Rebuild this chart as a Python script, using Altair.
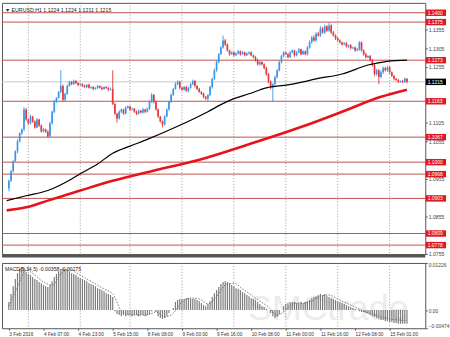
import altair as alt
import pandas as pd

FONT = "Liberation Sans"

header_text = "▼ EURUSD,H1  1.1224 1.1224 1.1211 1.1215"
macd_text = "MACD(5,34,5) -0.00358 -0.00275"
watermark_text = "SMCtrade"

first_open = 1.0930
closes = [
    1.0950, 1.0976, 1.1003, 1.1029, 1.1056, 1.1077, 1.1088, 1.1141, 1.1114, 1.1104,
    1.1122, 1.1109, 1.1093, 1.1114, 1.1098, 1.1082, 1.1088, 1.1082, 1.1069, 1.1104,
    1.1135, 1.1162, 1.1172, 1.1188, 1.1204, 1.1167, 1.1183, 1.1204, 1.1215, 1.1209,
    1.1217, 1.1212, 1.1207, 1.1209, 1.1204, 1.1201, 1.1207, 1.1199, 1.1201, 1.1196,
    1.1199, 1.1204, 1.1199, 1.1196, 1.1201, 1.1199, 1.1194, 1.1196, 1.1156, 1.1130,
    1.1117, 1.1135, 1.1141, 1.1130, 1.1146, 1.1149, 1.1141, 1.1143, 1.1135, 1.1130,
    1.1138, 1.1133, 1.1141, 1.1135, 1.1143, 1.1162, 1.1180, 1.1162, 1.1141, 1.1122,
    1.1109, 1.1101, 1.1122, 1.1141, 1.1162, 1.1180, 1.1196, 1.1209, 1.1215, 1.1199,
    1.1194, 1.1201, 1.1191, 1.1199, 1.1209, 1.1217, 1.1204, 1.1196, 1.1188, 1.1183,
    1.1175, 1.1170, 1.1180, 1.1201, 1.1223, 1.1246, 1.1268, 1.1289, 1.1307, 1.1326,
    1.1315, 1.1299, 1.1289, 1.1294, 1.1286, 1.1291, 1.1297, 1.1289, 1.1294, 1.1286,
    1.1291, 1.1294, 1.1286, 1.1281, 1.1273, 1.1262, 1.1268, 1.1262, 1.1252, 1.1236,
    1.1215, 1.1201, 1.1209, 1.1228, 1.1246, 1.1268, 1.1284, 1.1294, 1.1289, 1.1281,
    1.1294, 1.1299, 1.1286, 1.1294, 1.1302, 1.1289, 1.1297, 1.1289, 1.1307, 1.1321,
    1.1334, 1.1326, 1.1344, 1.1339, 1.1358, 1.1347, 1.1363, 1.1352, 1.1366, 1.1347,
    1.1339, 1.1331, 1.1326, 1.1321, 1.1315, 1.1318, 1.1310, 1.1313, 1.1305, 1.1307,
    1.1299, 1.1302, 1.1321, 1.1299, 1.1289, 1.1281, 1.1284, 1.1273, 1.1260, 1.1236,
    1.1246, 1.1228, 1.1241, 1.1252, 1.1246, 1.1254, 1.1241, 1.1231, 1.1223, 1.1220,
    1.1215, 1.1217, 1.1215, 1.1224, 1.1215,
]
upper_wick_pips = [
    3, 4, 2, 3, 5, 3, 2, 6, 4, 3,
    5, 2, 3, 4, 2, 3, 4, 2, 3, 4,
    3, 5, 2, 3, 42, 4, 3, 4, 3, 2,
    4, 3, 2, 3, 2, 4, 2, 3, 2, 3,
    2, 3, 2, 4, 2, 3, 2, 3, 50, 3,
    2, 4, 3, 2, 4, 3, 2, 3, 2, 3,
    3, 2, 4, 2, 3, 4, 5, 3, 2, 3,
    2, 3, 4, 3, 2, 4, 3, 5, 4, 3,
    2, 3, 4, 2, 3, 4, 3, 2, 3, 2,
    3, 2, 3, 4, 3, 5, 4, 3, 4, 13,
    4, 3, 2, 3, 2, 3, 4, 2, 3, 2,
    3, 2, 3, 2, 3, 4, 3, 2, 3, 4,
    3, 4, 3, 4, 3, 5, 4, 3, 2, 3,
    4, 3, 2, 3, 4, 2, 3, 2, 4, 5,
    4, 6, 4, 5, 6, 4, 5, 4, 8, 3,
    4, 3, 4, 3, 2, 3, 4, 2, 3, 2,
    3, 4, 3, 2, 3, 4, 2, 3, 4, 5,
    4, 3, 5, 4, 3, 4, 3, 2, 3, 2,
    3, 2, 3, 2, 0,
]
lower_wick_pips = [
    8, 3, 4, 3, 5, 3, 4, 5, 3, 4,
    3, 4, 3, 2, 4, 3, 2, 4, 3, 2,
    3, 4, 3, 2, 3, 5, 4, 3, 2, 3,
    2, 3, 4, 2, 3, 2, 3, 2, 3, 4,
    2, 3, 2, 3, 2, 3, 4, 2, 3, 4,
    11, 3, 4, 3, 2, 3, 4, 2, 3, 4,
    3, 2, 3, 4, 2, 3, 4, 5, 3, 4,
    3, 8, 3, 2, 3, 4, 3, 2, 3, 4,
    3, 2, 3, 4, 2, 3, 4, 3, 2, 3,
    4, 3, 8, 3, 4, 3, 4, 3, 2, 3,
    4, 3, 4, 2, 3, 2, 3, 4, 2, 3,
    2, 3, 2, 3, 4, 3, 4, 3, 4, 5,
    4, 6, 39, 5, 4, 3, 4, 3, 2, 3,
    2, 3, 4, 3, 2, 3, 2, 3, 4, 3,
    4, 3, 4, 3, 4, 3, 4, 3, 3, 4,
    3, 4, 3, 4, 3, 2, 3, 4, 3, 2,
    3, 2, 4, 3, 4, 3, 2, 3, 4, 6,
    5, 19, 4, 5, 3, 4, 5, 3, 4, 3,
    3, 2, 3, 3, 4,
]

ma_black_bars = [-1, 8, 18, 29, 33, 41, 48, 56, 64, 78, 92, 98, 104, 111, 119, 129, 136, 142, 154, 166, 175, 184]
ma_black_values = [1.0897, 1.0910, 1.0924, 1.0955, 1.0969, 1.0995, 1.1024, 1.1043, 1.1061, 1.1096, 1.1135,
                   1.1154, 1.1170, 1.1183, 1.1199, 1.1207, 1.1215, 1.1223, 1.1236, 1.1260, 1.1270, 1.1273]
ma_red_bars = [-1, 8, 18, 33, 48, 66, 89, 111, 129, 136, 154, 172, 184]
ma_red_values = [1.0871, 1.0879, 1.0897, 1.0924, 1.0950, 1.0976, 1.1008, 1.1048, 1.1082, 1.1096, 1.1135, 1.1175, 1.1194]

level_prices = [1.1400, 1.1375, 1.1273, 1.1163, 1.1067, 1.1000, 1.0968, 1.0903, 1.0809, 1.0778]
bid_price = 1.1215
price_ticks = [1.0755, 1.0855, 1.0955, 1.1055, 1.1105, 1.1255, 1.1305, 1.1355]

day_grid_bars = [9, 33, 56, 80, 104, 128, 152, 176]
time_label_bars = [0, 16, 32, 48, 64, 80, 96, 112, 128, 144, 160, 176]
time_labels = ["3 Feb 2016", "4 Feb 07:00", "4 Feb 23:00", "5 Feb 15:00", "8 Feb 08:00", "9 Feb 00:00",
               "9 Feb 16:00", "10 Feb 08:00", "11 Feb 00:00", "11 Feb 16:00", "12 Feb 08:00", "15 Feb 01:00"]

macd_hist_e5 = [
    210, 420, 620, 810, 960, 1070, 1120, 1090, 990, 940,
    910, 860, 810, 780, 730, 700, 650, 620, 600, 650,
    750, 860, 940, 1010, 1070, 1090, 1070, 1040, 1010, 960,
    940, 910, 860, 830, 810, 780, 750, 700, 680, 650,
    620, 570, 550, 520, 490, 440, 420, 390, 340, -30,
    -100, -130, -160, -130, -160, -130, -130, -160, -130, -130,
    -160, -130, -130, -160, -130, -100, -30, 0, -50, -160,
    -210, -230, -210, -160, -80, 0, 50, 210, 260, 290,
    290, 290, 310, 310, 310, 290, 290, 260, 230, 180,
    130, 100, 160, 230, 340, 440, 520, 600, 680, 730,
    750, 730, 700, 650, 620, 570, 550, 520, 470, 440,
    390, 360, 310, 290, 260, 210, 160, 100, 80, 30,
    0, -80, -160, -210, -180, -100, 0, 100, 160, 180,
    210, 210, 210, 180, 180, 210, 180, 210, 230, 260,
    310, 340, 360, 390, 420, 390, 420, 360, 340, 310,
    290, 260, 230, 210, 180, 160, 130, 100, 80, 50,
    30, 0, -30, -50, -50, -80, -100, -130, -160, -180,
    -210, -230, -260, -260, -290, -290, -310, -310, -340, -340,
    -360, -360, -360, -360, -358,
]
signal_bars = list(range(0, 185, 4))
signal_e5 = [100, 600, 1040, 910, 730, 650, 940, 1070, 940, 810, 680, 550, 420, -20, -130, -130,
             -130, -50, -180, -80, 210, 310, 290, 160, 340, 650, 700, 550, 390, 230, 80, -130,
             0, 180, 180, 230, 360, 390, 290, 180, 80, -30, -100, -180, -230, -260, -275]
macd_ticks = [-0.00474, 0.0, 0.01226]

# ---------------------------------------------------------------- tables
N = len(closes)
opens = [first_open] + closes[:-1]
highs = [max(o, c) + u / 10000 for o, c, u in zip(opens, closes, upper_wick_pips)]
lows = [min(o, c) - l / 10000 for o, c, l in zip(opens, closes, lower_wick_pips)]
candles = pd.DataFrame({"bar": list(range(N)), "open": opens, "high": highs, "low": lows, "close": closes})
black_df = pd.DataFrame({"bar": ma_black_bars, "v": ma_black_values})
red_df = pd.DataFrame({"bar": ma_red_bars, "v": ma_red_values})
lvl_df = pd.DataFrame({"price": level_prices, "txt": [f"{p:.4f}" for p in level_prices]})
bid_df = pd.DataFrame({"price": [bid_price], "txt": [f"{bid_price:.4f}"]})
grid_df = pd.DataFrame({"bar": day_grid_bars})
macd_df = pd.DataFrame({"bar": list(range(N)), "m": [v / 1e5 for v in macd_hist_e5]})
sig_df = pd.DataFrame({"bar": signal_bars, "s": [v / 1e5 for v in signal_e5]})
one = pd.DataFrame({"t": [header_text]})

xs = alt.Scale(domain=[-0.893, 190.18], nice=False, zero=False)
ys = alt.Scale(domain=[1.0754, 1.14265], nice=False, zero=False)
ms = alt.Scale(domain=[-0.00474, 0.01226], nice=False, zero=False)

y_axis = alt.Axis(orient="right", values=price_ticks, format=".4f", labelFontSize=5.2, labelColor="#444",
                  labelFont=FONT, tickSize=2, tickColor="#555", labelPadding=1, domain=False, grid=False,
                  title=None, labelFlush=False, labelOverlap=False)
m_axis = alt.Axis(orient="right", values=macd_ticks,
                  labelExpr="datum.value == 0 ? '0.00' : format(datum.value, '.5f')",
                  labelFontSize=5.0, labelColor="#444", labelFont=FONT, tickSize=2, tickColor="#555",
                  labelPadding=1, domain=False, grid=False, title=None, labelFlush=True, labelOverlap=False)
label_js = "[" + ",".join(f"'{t}'" for t in time_labels) + "]"
x_axis = alt.Axis(values=time_label_bars, labelExpr=f"{label_js}[round(datum.value/16)]",
                  labelAlign="left", labelFontSize=4.8, labelColor="#333", labelFont=FONT, tickSize=2,
                  tickColor="#555", labelPadding=1, domain=False, grid=False, title=None,
                  labelFlush=False, labelOverlap=False)

X = alt.X("bar:Q", scale=xs, axis=None)
UP, DOWN = "#3b97ea", "#e3383c"
col = alt.condition("datum.close >= datum.open", alt.value(UP), alt.value(DOWN))

grid_top = alt.Chart(grid_df).mark_rule(color="#808080", strokeDash=[1, 2], strokeWidth=0.8).encode(x=X)
levels = alt.Chart(lvl_df).mark_rule(color="#c0504d", strokeWidth=1).encode(
    y=alt.Y("price:Q", scale=ys, axis=y_axis))
bid_line = alt.Chart(bid_df).mark_rule(color="#c8c8c8", strokeWidth=1).encode(
    y=alt.Y("price:Q", scale=ys, axis=y_axis))
wicks = alt.Chart(candles).mark_rule(strokeWidth=0.9).encode(
    x=X, y=alt.Y("low:Q", scale=ys, axis=y_axis), y2="high:Q", color=col)
bodies = alt.Chart(candles).mark_bar(width=1.7).encode(
    x=X, y=alt.Y("open:Q", scale=ys, axis=y_axis), y2="close:Q", color=col)
red_ma = alt.Chart(red_df).mark_line(color="#e3151b", strokeWidth=2.6, interpolate="monotone", clip=True).encode(
    x=X, y=alt.Y("v:Q", scale=ys, axis=y_axis))
black_ma = alt.Chart(black_df).mark_line(color="#000000", strokeWidth=1.2, interpolate="monotone", clip=True).encode(
    x=X, y=alt.Y("v:Q", scale=ys, axis=y_axis))
boxes = alt.Chart(lvl_df).mark_rule(color="#e0191f", strokeWidth=6.5, strokeCap="butt").encode(
    x=alt.value(428.5), x2=alt.value(449), y=alt.Y("price:Q", scale=ys, axis=y_axis))
box_txt = alt.Chart(lvl_df).mark_text(align="left", baseline="middle", fontSize=5.0, font=FONT, color="white").encode(
    x=alt.value(430.5), y=alt.Y("price:Q", scale=ys, axis=y_axis), text="txt:N")
bid_box = alt.Chart(bid_df).mark_rule(color="#000000", strokeWidth=6.5, strokeCap="butt").encode(
    x=alt.value(428.5), x2=alt.value(449), y=alt.Y("price:Q", scale=ys, axis=y_axis))
bid_txt = alt.Chart(bid_df).mark_text(align="left", baseline="middle", fontSize=5.0, font=FONT, color="white").encode(
    x=alt.value(430.5), y=alt.Y("price:Q", scale=ys, axis=y_axis), text="txt:N")
header = alt.Chart(one).mark_text(align="left", baseline="middle", fontSize=5.3, font=FONT, color="#222").encode(
    x=alt.value(3), y=alt.value(7), text="t:N")
separator = alt.Chart(one).mark_rule(color="#555555", strokeWidth=3).encode(
    x=alt.value(0), x2=alt.value(428), y=alt.value(256))

top = alt.layer(grid_top, levels, bid_line, wicks, bodies, red_ma, black_ma,
                boxes, box_txt, bid_box, bid_txt, header, separator).properties(width=428, height=254)

XB = alt.X("bar:Q", scale=xs, axis=x_axis)
wm = alt.Chart(pd.DataFrame({"t": [watermark_text]})).mark_text(
    align="center", baseline="alphabetic", fontSize=36, font=FONT, color="#ececec").encode(
    x=alt.value(330), y=alt.value(58), text="t:N")
grid_bot = alt.Chart(grid_df).mark_rule(color="#808080", strokeDash=[1, 2], strokeWidth=0.8).encode(x=XB)
hist = alt.Chart(macd_df).mark_bar(width=1.2, color="#7c7c7c").encode(
    x=XB, y=alt.Y("m:Q", scale=ms, axis=m_axis), y2=alt.Y2(datum=0))
signal = alt.Chart(sig_df).mark_line(color="#6a6a6a", strokeDash=[1.5, 1.5], strokeWidth=0.9,
                                     interpolate="monotone").encode(
    x=XB, y=alt.Y("s:Q", scale=ms, axis=m_axis))
mlabel = alt.Chart(pd.DataFrame({"t": [macd_text]})).mark_text(
    align="left", baseline="middle", fontSize=5.2, font=FONT, color="#222").encode(
    x=alt.value(3), y=alt.value(6), text="t:N")

bottom = alt.layer(wm, grid_bot, hist, signal, mlabel).properties(width=428, height=66)

chart = alt.vconcat(top, bottom, spacing=4).properties(
    padding=0, background="white"
).configure_view(stroke="#555555", strokeWidth=1)

chart.save("out.html", embed_options={"renderer": "svg", "actions": False})
